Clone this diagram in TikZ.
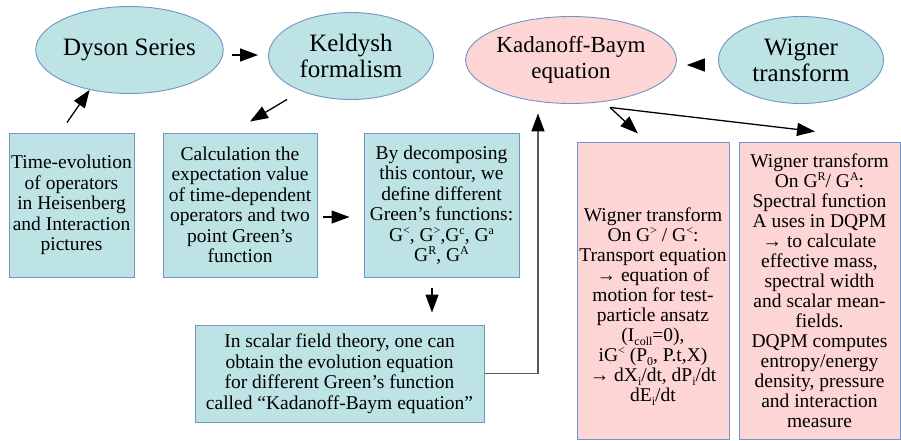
\documentclass[tikz,border=0pt]{standalone}
\usepackage{fontspec}
\setmainfont{Liberation Serif}
\usetikzlibrary{shapes.geometric,arrows.meta}
\definecolor{cyanfill}{RGB}{189,227,228}
\definecolor{pinkfill}{RGB}{252,213,212}
\definecolor{bordblue}{RGB}{110,150,200}
\newcommand\mysup[1]{\raisebox{0.36em}{\fontsize{12}{12}\selectfont #1}}
\newcommand\mysub[1]{\raisebox{-0.22em}{\fontsize{12}{12}\selectfont #1}}
\tikzset{
  ell/.style={ellipse, draw=bordblue, line width=0.9pt, minimum width=165pt, minimum height=87pt, inner sep=0pt, align=center, font=\fontsize{25}{26}\selectfont},
  boxc/.style={rectangle, draw=bordblue, line width=1pt, fill=cyanfill, inner sep=1pt, align=center, font=\fontsize{19.5}{20.5}\selectfont},
  boxp/.style={rectangle, draw=bordblue, line width=1pt, fill=pinkfill, inner sep=1pt, align=center, font=\fontsize{19.5}{20}\selectfont},
  txt/.style={inner sep=0pt, align=center, font=\fontsize{19.5}{20}\selectfont},
  arr/.style={line width=1.3pt, -{Triangle[length=18pt,width=13pt]}},
  greyarr/.style={line width=1.6pt, draw=black!65, -{Triangle[length=18pt,width=13pt,color=black]}}
}
\begin{document}
\begin{tikzpicture}[x=1pt,y=-1pt]
\useasboundingbox (0,0) rectangle (901,440);
% ellipses
\node[ell, fill=cyanfill] (dyson) at (129.5,50) {Dyson Series};
\node[ell, fill=cyanfill] (keldysh) at (351,56) {Keldysh\\formalism};
\node[ell, fill=pinkfill, minimum width=164pt, font=\fontsize{23}{25.5}\selectfont] (kb) at (571,60) {Kadanoff-Baym\\equation};
\node[ell, fill=cyanfill] (wigner) at (801,60) {Wigner\\transform};
% boxes
\node[boxc, minimum width=125pt, minimum height=144pt] (timeevo) at (71.5,205)
  {Time-evolution\\of operators\\in Heisenberg\\and Interaction\\pictures};
\node[boxc, minimum width=154pt, minimum height=144pt] (calc) at (240,205)
  {Calculation the\\expectation value\\of time-dependent\\operators and two\\point Green’s\\function};
\node[boxc, minimum width=155pt, minimum height=144pt] (decomp) at (441.5,205)
  {By decomposing\\this contour, we\\define different\\Green’s functions:\\G\mysup{<}, G\mysup{>},G\mysup{c}, G\mysup{a}\\G\mysup{R}, G\mysup{A}};
\node[boxc, minimum width=289pt, minimum height=97pt] (scalar) at (339.5,373.5)
  {In scalar field theory, one can\\obtain the evolution equation\\for different Green’s function\\called “Kadanoff-Baym equation”};
\node[boxp, minimum width=152pt, minimum height=297pt] (wgl) at (653,290.5) {};
\node[txt] (wgltext) at ([yshift=-16pt]wgl.center)
  {Wigner transform\\On G\mysup{>} / G\mysup{<}:\\Transport equation\\→ equation of\\motion for test-\\particle ansatz\\(I\mysub{coll}=0),\\iG\mysup{<} (P\mysub{0}, P.t,X)\\→ dX\mysub{i}/dt, dP\mysub{i}/dt\\dE\mysub{i}/dt};
\node[boxp, minimum width=161pt, minimum height=297pt] (wgr) at (819.5,290.5)
  {Wigner transform\\On G\mysup{R}/ G\mysup{A}:\\Spectral function\\A uses in DQPM\\→ to calculate\\effective mass,\\spectral width\\and scalar mean-\\fields.\\DQPM computes\\entropy/energy\\density, pressure\\and interaction\\measure};
% connectors
\draw[arr] ([xshift=-4.5pt,yshift=10pt]timeevo.north) -- (dyson.225);
\draw[arr] ([xshift=8pt,yshift=-5pt]dyson.east) -- ([xshift=-10pt,yshift=1pt]keldysh.west);
\draw[arr] ([xshift=-64pt,yshift=0.5pt]keldysh.south) -- ([xshift=10pt,yshift=11pt]calc.north);
\draw[arr] ([xshift=5pt,yshift=-12pt]calc.east) -- ([xshift=-14pt,yshift=-12pt]decomp.west);
\draw[arr] ([xshift=-9.5pt,yshift=-10pt]decomp.south) -- ([xshift=92.5pt,yshift=12pt]scalar.north);
\draw[greyarr] (scalar.east) -| ([xshift=-33pt,yshift=-9.5pt]kb.south);
\draw[arr] ([xshift=-18pt,yshift=-5pt]wigner.west) -- ([xshift=10pt,yshift=-5pt]kb.east);
\draw[arr] ([xshift=39pt,yshift=-3.5pt]kb.south) -- ([xshift=-15pt,yshift=8pt]wgl.north);
\draw[arr] ([xshift=39pt,yshift=-3.5pt]kb.south) -- ([xshift=-4.5pt,yshift=10pt]wgr.north);
\end{tikzpicture}
\end{document}
